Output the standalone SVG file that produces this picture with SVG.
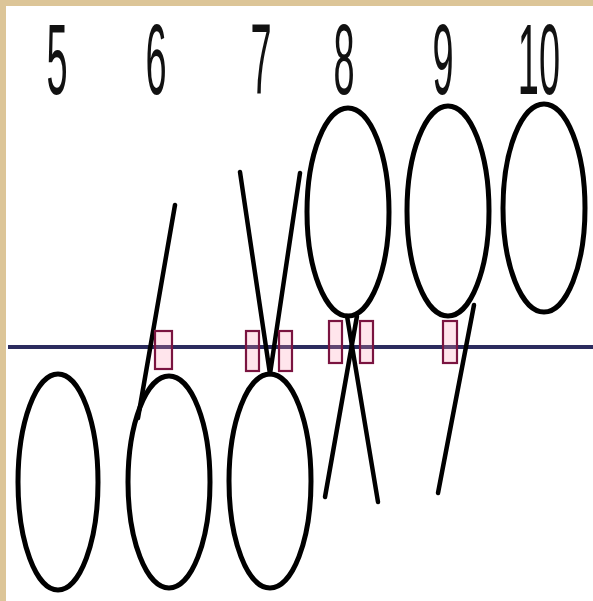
<svg xmlns="http://www.w3.org/2000/svg" width="593" height="601" viewBox="0 0 593 601">
<style>
.lbl{font-family:"Liberation Sans",Arial,sans-serif;font-size:100px;fill:#111;text-anchor:middle}
.cell{fill:none;stroke:#000;stroke-width:5}
.ln{stroke:#000;stroke-width:4.5;stroke-linecap:round;fill:none}
.mk{fill:rgba(255,150,180,0.25);stroke:#7a1440;stroke-width:2.2}
</style>
<rect x="0" y="0" width="593" height="601" fill="#dcc598"/>
<rect x="6" y="6" width="587" height="595" fill="#ffffff"/>
<g id="labels">
<text class="lbl" transform="translate(57,94) scale(0.38,1)">5</text>
<text class="lbl" transform="translate(156,94) scale(0.38,1)">6</text>
<text class="lbl" transform="translate(261,94) scale(0.38,1)">7</text>
<text class="lbl" transform="translate(344,94) scale(0.38,1)">8</text>
<text class="lbl" transform="translate(443,94) scale(0.38,1)">9</text>
<text class="lbl" transform="translate(539,94) scale(0.38,1)">10</text>
</g>
<line id="axis" x1="8" y1="347" x2="593" y2="347" stroke="#2b2b5e" stroke-width="4"/>
<g id="connectors">
<line class="ln" x1="175" y1="205" x2="138" y2="418"/>
<line class="ln" x1="240" y1="172" x2="270" y2="374"/>
<line class="ln" x1="300" y1="173" x2="270" y2="374"/>
<line class="ln" x1="347" y1="316" x2="378" y2="502"/>
<line class="ln" x1="357" y1="316" x2="325" y2="497"/>
<line class="ln" x1="474" y1="305" x2="438" y2="493"/>
</g>
<g id="cell5"><ellipse class="cell" cx="58" cy="482" rx="40" ry="108"/></g>
<g id="cell6"><ellipse class="cell" cx="169" cy="482" rx="41" ry="106"/></g>
<g id="cell7"><ellipse class="cell" cx="270" cy="481" rx="41" ry="107"/></g>
<g id="cell8"><ellipse class="cell" cx="348" cy="212" rx="41" ry="104"/></g>
<g id="cell9"><ellipse class="cell" cx="448" cy="211" rx="41" ry="105"/></g>
<g id="cell10"><ellipse class="cell" cx="544" cy="208" rx="41" ry="104"/></g>
<g id="markers">
<rect class="mk" x="155" y="331" width="17" height="38"/>
<rect class="mk" x="246" y="331" width="13" height="40"/>
<rect class="mk" x="279" y="331" width="13" height="40"/>
<rect class="mk" x="329" y="321" width="13" height="42"/>
<rect class="mk" x="360" y="321" width="13" height="42"/>
<rect class="mk" x="443" y="321" width="14" height="42"/>
</g>
</svg>
